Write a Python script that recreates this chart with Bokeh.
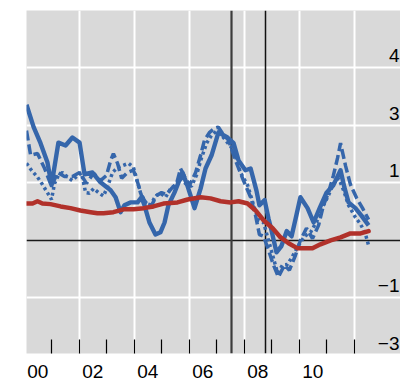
import math
from bokeh.plotting import figure
from bokeh.models import FixedTicker, Range1d
from bokeh.core.properties import value
from bokeh.embed import file_html
from bokeh.resources import INLINE

# ---- data (decimal years, values) ----
solid_t = [2000.09, 2000.35, 2000.60, 2000.85, 2001.00, 2001.25, 2001.51, 2001.76, 2002.02, 2002.20,
           2002.49, 2002.78, 2003.15, 2003.33, 2003.51, 2003.65, 2003.87, 2004.13, 2004.27, 2004.38,
           2004.56, 2004.78, 2004.96, 2005.11, 2005.25, 2005.47, 2005.76, 2005.95, 2006.20, 2006.42,
           2006.60, 2006.82, 2007.07, 2007.40, 2007.62, 2007.80, 2008.05, 2008.24, 2008.45, 2008.56,
           2008.75, 2008.89, 2009.00, 2009.18, 2009.36, 2009.55, 2009.73, 2009.91, 2010.05, 2010.31,
           2010.53, 2010.75, 2011.00, 2011.25, 2011.51, 2011.65, 2011.80, 2012.05, 2012.27, 2012.53]
solid_v = [2.36, 1.97, 1.69, 1.36, 0.96, 1.70, 1.65, 1.79, 1.70, 1.15,
           1.18, 1.01, 0.87, 0.75, 0.49, 0.61, 0.66, 0.66, 0.75, 0.61,
           0.31, 0.10, 0.14, 0.31, 0.61, 0.83, 1.18, 0.94, 0.56, 0.90,
           1.25, 1.48, 1.88, 1.79, 1.69, 1.39, 1.22, 1.25, 0.87, 0.61,
           0.70, 0.38, 0.17, -0.21, -0.10, 0.16, 0.07, 0.45, 0.75, 0.56,
           0.31, 0.56, 0.83, 0.96, 1.22, 0.92, 0.66, 0.56, 0.43, 0.26]

dash_t = [2000.09, 2000.24, 2000.49, 2000.75, 2001.00, 2001.22, 2001.47, 2001.76, 2002.02, 2002.27,
          2002.53, 2002.78, 2003.00, 2003.15, 2003.25, 2003.40, 2003.55, 2003.76, 2003.98, 2004.13,
          2004.27, 2004.45, 2004.64, 2004.82, 2005.00, 2005.18, 2005.36, 2005.55, 2005.69, 2005.84,
          2006.02, 2006.24, 2006.42, 2006.56, 2006.75, 2006.93, 2007.07, 2007.22, 2007.44, 2007.69,
          2007.98, 2008.24, 2008.42, 2008.56, 2008.71, 2008.89, 2009.07, 2009.25, 2009.47, 2009.65,
          2009.87, 2010.05, 2010.27, 2010.49, 2010.71, 2010.89, 2011.07, 2011.25, 2011.40, 2011.51,
          2011.69, 2011.87, 2012.09, 2012.31, 2012.53]
dash_v = [1.91, 1.48, 1.51, 1.25, 0.94, 1.18, 1.11, 1.11, 1.18, 0.99,
          1.17, 1.04, 1.13, 1.39, 1.51, 1.34, 1.08, 1.18, 1.22, 1.01,
          0.78, 0.64, 0.61, 0.78, 0.83, 0.80, 0.90, 0.99, 1.25, 1.11,
          0.96, 1.18, 1.48, 1.74, 1.88, 1.95, 1.97, 1.86, 1.74, 1.39,
          1.04, 0.75, 0.43, 0.10, 0.07, -0.17, -0.43, -0.64, -0.43, -0.52,
          -0.26, 0.00, 0.21, 0.03, 0.26, 0.61, 0.83, 1.13, 1.43, 1.69,
          1.30, 0.97, 0.74, 0.56, 0.36]

dot_t = [2000.09, 2000.27, 2000.49, 2000.67, 2000.85, 2001.00, 2001.11, 2001.25, 2001.40, 2001.58,
         2001.76, 2001.95, 2002.09, 2002.24, 2002.38, 2002.53, 2002.71, 2002.89, 2003.04, 2003.22,
         2003.40, 2003.58, 2003.80, 2003.98, 2004.13, 2004.24, 2004.42, 2004.60, 2004.78, 2004.96,
         2005.15, 2005.33, 2005.51, 2005.69, 2005.91, 2006.09, 2006.27, 2006.45, 2006.64, 2006.82,
         2007.00, 2007.18, 2007.40, 2007.62, 2007.87, 2008.13, 2008.35, 2008.53, 2008.71, 2008.89,
         2009.07, 2009.22, 2009.40, 2009.58, 2009.76, 2009.98, 2010.20, 2010.42, 2010.67, 2010.89,
         2011.07, 2011.25, 2011.44, 2011.62, 2011.80, 2012.05, 2012.24, 2012.42, 2012.53]
dot_v = [1.34, 1.22, 1.10, 0.97, 0.83, 0.71, 0.99, 1.13, 1.18, 1.10,
         1.04, 1.13, 1.17, 0.83, 0.82, 0.90, 0.83, 0.77, 0.94, 1.18,
         1.27, 1.30, 1.34, 1.27, 1.01, 0.82, 0.66, 0.61, 0.77, 0.82,
         0.75, 0.90, 0.96, 1.08, 0.97, 0.94, 1.13, 1.43, 1.69, 1.83,
         1.90, 1.83, 1.70, 1.57, 1.18, 0.96, 0.61, 0.35, 0.31, 0.00,
         -0.31, -0.57, -0.43, -0.42, -0.28, -0.09, 0.07, 0.14, 0.35, 0.61,
         0.78, 0.99, 1.08, 0.87, 0.61, 0.40, 0.28, 0.10, -0.09]

red_t = [2000.09, 2000.31, 2000.49, 2000.67, 2000.96, 2001.33, 2001.69, 2002.05, 2002.42, 2002.67,
         2002.89, 2003.25, 2003.62, 2003.98, 2004.35, 2004.71, 2005.07, 2005.58, 2005.95, 2006.42,
         2006.78, 2007.15, 2007.51, 2007.80, 2008.13, 2008.42, 2008.71, 2009.04, 2009.33, 2009.62,
         2009.95, 2010.31, 2010.49, 2010.78, 2011.15, 2011.51, 2011.87, 2012.24, 2012.53]
red_v = [0.64, 0.64, 0.68, 0.64, 0.63, 0.59, 0.56, 0.52, 0.49, 0.47,
         0.47, 0.49, 0.54, 0.54, 0.56, 0.59, 0.64, 0.66, 0.71, 0.75,
         0.73, 0.68, 0.66, 0.68, 0.64, 0.52, 0.35, 0.21, 0.05, -0.05,
         -0.14, -0.14, -0.14, -0.07, 0.00, 0.05, 0.12, 0.12, 0.16]

event_years = [2007.55, 2008.78]

year_ticks = [2001, 2002, 2003, 2004, 2005, 2006, 2007, 2008, 2009, 2010, 2011, 2012]
xgrid_years = [2002, 2004, 2006, 2008, 2010, 2012]
xlabel_pos = [2000.5, 2002.5, 2004.5, 2006.5, 2008.5, 2010.5]
xlabel_text = ["00", "02", "04", "06", "08", "10"]

ygrid_vals = [-1, 1, 2, 3]
ylabel_pos = [3, 2, 1, -1, -2]
ylabel_text = ["4", "3", "1", "\u22121", "\u22123"]

X_START, X_END = 2000.09, 2013.69
Y_START, Y_END = -1.97, 4.0

BLUE = "#3566ab"
RED = "#b1312a"
FONT = "Liberation Sans"

p = figure(width=400, height=382, x_range=Range1d(X_START, X_END), y_range=Range1d(Y_START, Y_END),
           output_backend="svg", toolbar_location=None,
           min_border_left=26, min_border_right=0, min_border_top=10, min_border_bottom=29,
           background_fill_color="#d9d9d9", border_fill_color="white", outline_line_color=None)

p.yaxis.visible = False
p.ygrid.ticker = FixedTicker(ticks=ygrid_vals)
p.xgrid.ticker = FixedTicker(ticks=xgrid_years)
for g in (p.xgrid, p.ygrid):
    g.grid_line_color = "white"
    g.grid_line_width = 2

ax = p.xaxis[0]
ax.ticker = FixedTicker(ticks=xlabel_pos, minor_ticks=year_ticks)
ax.major_label_overrides = {k: v for k, v in zip(xlabel_pos, xlabel_text)}
ax.axis_line_color = None
ax.major_tick_line_color = None
ax.minor_tick_line_color = "black"
ax.minor_tick_line_width = 1.2
ax.minor_tick_in = 14
ax.minor_tick_out = 0
ax.major_tick_in = 0
ax.major_tick_out = 0
ax.major_label_standoff = 11
ax.major_label_text_font = FONT
ax.major_label_text_font_size = "19px"
ax.major_label_text_color = "black"

# zero line and event lines
p.hspan(y=[0], line_color="#1a1a1a", line_width=1.5)
p.vspan(x=event_years[:1], line_color="#3c3c3c", line_width=2.2)
p.vspan(x=event_years[1:], line_color="#111111", line_width=1.5)

# series
p.line(dot_t, dot_v, line_color=BLUE, line_width=3.5, line_dash="3 3")
p.line(dash_t, dash_v, line_color=BLUE, line_width=3.5, line_dash="10 4")
p.line(solid_t, solid_v, line_color=BLUE, line_width=4.4, line_join="round")
p.line(red_t, red_v, line_color=RED, line_width=4.5, line_join="round", line_cap="round")

# right-hand value labels inside the plot, sitting just above their gridlines
p.text(x=[X_END] * len(ylabel_pos), y=ylabel_pos, text=ylabel_text,
       text_align="right", text_baseline="middle", x_offset=-1, y_offset=-12,
       text_font=value(FONT), text_font_size="19px", text_color="black")

open("out.html", "w").write(file_html(p, INLINE))
